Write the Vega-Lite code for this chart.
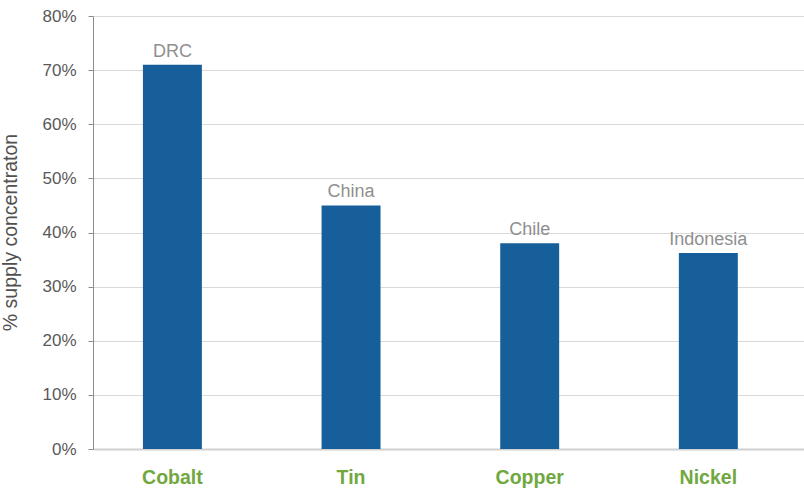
{
  "$schema": "https://vega.github.io/schema/vega-lite/v6.json",
  "description": "Supply concentration of top producing country by metal",
  "autosize": "none",
  "width": 711,
  "height": 433,
  "padding": {"left": 93, "top": 16, "right": 0, "bottom": 46},
  "background": "white",
  "config": {"view": {"stroke": null}},
  "data": {
    "values": [
      {"metal": "Cobalt", "country": "DRC", "share": 0.71},
      {"metal": "Tin", "country": "China", "share": 0.45},
      {"metal": "Copper", "country": "Chile", "share": 0.38},
      {"metal": "Nickel", "country": "Indonesia", "share": 0.362}
    ]
  },
  "encoding": {
    "x": {
      "field": "metal",
      "type": "nominal",
      "sort": null,
      "scale": {"paddingInner": 0.67, "paddingOuter": 0.325, "align": 0.43},
      "axis": {
        "title": null,
        "labelAngle": 0,
        "labelFont": "Liberation Sans",
        "labelFontSize": 19.5,
        "labelFontWeight": "bold",
        "labelColor": "#70A83F",
        "labelPadding": 19,
        "ticks": false,
        "domainColor": "#d0d0d0",
        "domainWidth": 2
      }
    },
    "y": {
      "field": "share",
      "type": "quantitative",
      "scale": {"domain": [0, 0.8]},
      "axis": {
        "title": "% supply concentraton",
        "titleFont": "Liberation Sans",
        "titleFontSize": 19.5,
        "titleFontWeight": "normal",
        "titleColor": "#505050",
        "titleX": -83,
        "titleY": 216,
        "titleAngle": 270,
        "titleBaseline": "middle",
        "titleAlign": "center",
        "format": ".0%",
        "values": [0, 0.1, 0.2, 0.3, 0.4, 0.5, 0.6, 0.7, 0.8],
        "labelFont": "Liberation Sans",
        "labelFontSize": 17,
        "labelColor": "#595959",
        "labelPadding": 12,
        "labelFlush": false,
        "tickSize": 5,
        "tickColor": "#8c8c8c",
        "domainColor": "#8c8c8c",
        "gridColor": "#d9d9d9",
        "grid": true
      }
    }
  },
  "layer": [
    {
      "mark": {"type": "bar", "color": "#175F9A"}
    },
    {
      "mark": {
        "type": "text",
        "baseline": "bottom",
        "dy": -4,
        "font": "Liberation Sans",
        "fontSize": 18,
        "color": "#8f8f8f"
      },
      "encoding": {"text": {"field": "country"}}
    }
  ]
}
